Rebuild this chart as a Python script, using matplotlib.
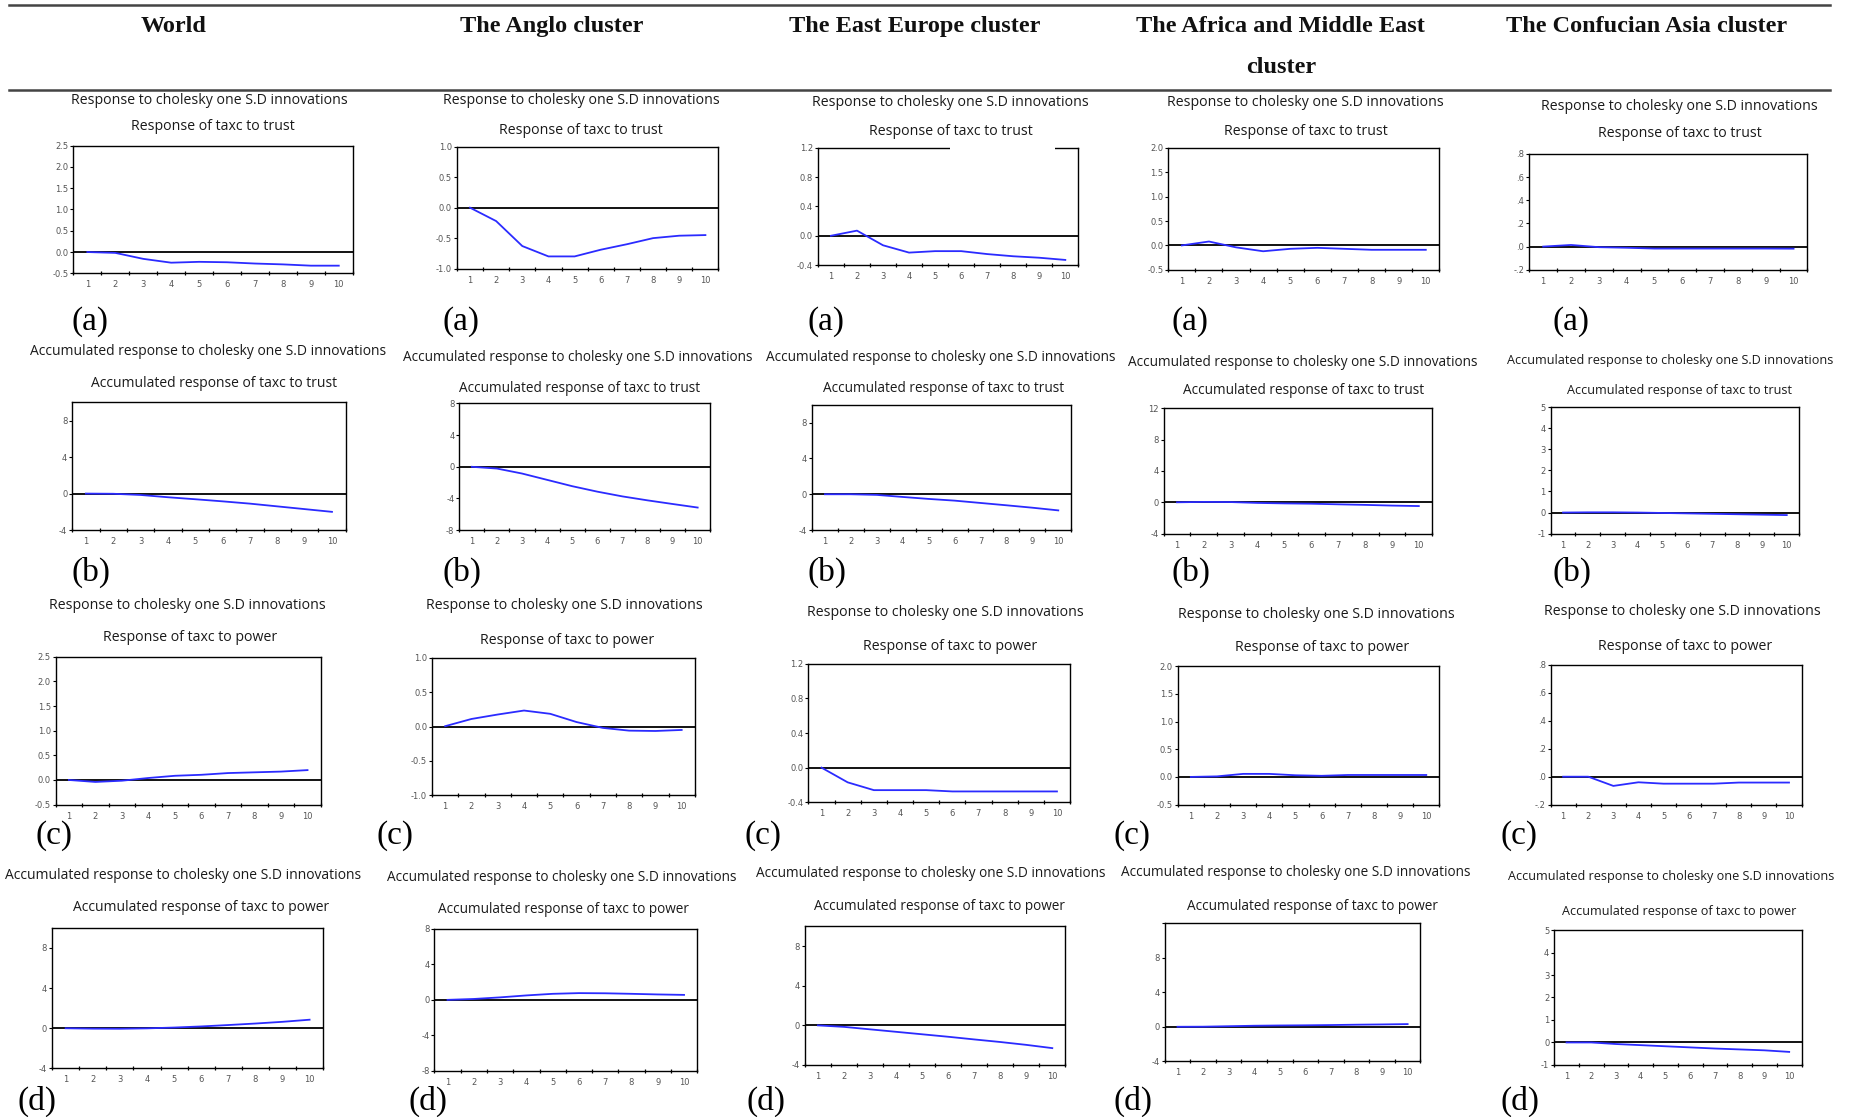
import matplotlib
matplotlib.use("Agg")
import matplotlib.pyplot as plt
from matplotlib.patches import Rectangle
from matplotlib.lines import Line2D

# ---------------- data ----------------
periods = [1, 2, 3, 4, 5, 6, 7, 8, 9, 10]
clusters = ["World", "The Anglo cluster", "The East Europe cluster",
            "The Africa and Middle East\ncluster", "The Confucian Asia cluster"]
row_letters = ["(a)", "(b)", "(c)", "(d)"]
row_title1 = ["Response to cholesky one S.D innovations",
              "Accumulated response to cholesky one S.D innovations",
              "Response to cholesky one S.D innovations",
              "Accumulated response to cholesky one S.D innovations"]
row_title2 = ["Response of taxc to trust",
              "Accumulated response of taxc to trust",
              "Response of taxc to power",
              "Accumulated response of taxc to power"]

# (a) Response of taxc to trust
trust_world = [0.0, -0.02, -0.16, -0.25, -0.23, -0.24, -0.27, -0.29, -0.32, -0.32]
trust_anglo = [0.0, -0.22, -0.63, -0.80, -0.80, -0.69, -0.60, -0.50, -0.46, -0.45]
trust_east = [0.0, 0.07, -0.13, -0.23, -0.21, -0.21, -0.25, -0.28, -0.30, -0.33]
trust_africa = [0.0, 0.08, -0.04, -0.12, -0.07, -0.05, -0.07, -0.09, -0.09, -0.09]
trust_confucian = [0.0, 0.014, -0.005, -0.01, -0.017, -0.017, -0.017, -0.017, -0.017, -0.018]
# (b) Accumulated response of taxc to trust
acc_trust_world = [0.0, -0.02, -0.15, -0.40, -0.62, -0.85, -1.10, -1.40, -1.70, -2.00]
acc_trust_anglo = [0.0, -0.22, -0.85, -1.65, -2.45, -3.14, -3.74, -4.24, -4.70, -5.15]
acc_trust_east = [0.0, 0.0, -0.07, -0.30, -0.52, -0.71, -0.97, -1.23, -1.50, -1.80]
acc_trust_africa = [0.0, 0.05, 0.03, -0.08, -0.14, -0.18, -0.26, -0.33, -0.42, -0.48]
acc_trust_confucian = [0.0, 0.01, 0.01, 0.0, -0.02, -0.04, -0.06, -0.08, -0.10, -0.12]
# (c) Response of taxc to power
power_world = [0.0, -0.04, -0.015, 0.04, 0.085, 0.105, 0.14, 0.155, 0.17, 0.20]
power_anglo = [0.005, 0.11, 0.175, 0.233, 0.185, 0.065, -0.02, -0.06, -0.065, -0.05]
power_east = [0.0, -0.17, -0.26, -0.26, -0.26, -0.275, -0.275, -0.275, -0.275, -0.275]
power_africa = [0.0, 0.01, 0.055, 0.055, 0.03, 0.02, 0.035, 0.035, 0.035, 0.035]
power_confucian = [0.0, 0.0, -0.066, -0.04, -0.05, -0.05, -0.05, -0.042, -0.042, -0.042]
# (d) Accumulated response of taxc to power
acc_power_world = [0.0, -0.04, -0.05, -0.01, 0.07, 0.18, 0.32, 0.47, 0.64, 0.85]
acc_power_anglo = [0.0, 0.10, 0.28, 0.50, 0.68, 0.76, 0.74, 0.68, 0.61, 0.56]
acc_power_east = [0.0, -0.15, -0.40, -0.65, -0.90, -1.15, -1.42, -1.68, -1.97, -2.30]
acc_power_africa = [0.0, 0.01, 0.065, 0.12, 0.15, 0.17, 0.20, 0.24, 0.27, 0.31]
acc_power_confucian = [0.0, 0.0, -0.07, -0.12, -0.17, -0.22, -0.27, -0.31, -0.35, -0.42]

series = [
    [trust_world, trust_anglo, trust_east, trust_africa, trust_confucian],
    [acc_trust_world, acc_trust_anglo, acc_trust_east, acc_trust_africa, acc_trust_confucian],
    [power_world, power_anglo, power_east, power_africa, power_confucian],
    [acc_power_world, acc_power_anglo, acc_power_east, acc_power_africa, acc_power_confucian],
]

# y-axis ticks / labels per column for response (a,c) and accumulated (b,d)
resp_ticks = [[-0.5, 0.0, 0.5, 1.0, 1.5, 2.0, 2.5],
              [-1.0, -0.5, 0.0, 0.5, 1.0],
              [-0.4, 0.0, 0.4, 0.8, 1.2],
              [-0.5, 0.0, 0.5, 1.0, 1.5, 2.0],
              [-0.2, 0.0, 0.2, 0.4, 0.6, 0.8]]
resp_labels = [["-0.5", "0.0", "0.5", "1.0", "1.5", "2.0", "2.5"],
               ["-1.0", "-0.5", "0.0", "0.5", "1.0"],
               ["-0.4", "0.0", "0.4", "0.8", "1.2"],
               ["-0.5", "0.0", "0.5", "1.0", "1.5", "2.0"],
               ["-.2", ".0", ".2", ".4", ".6", ".8"]]
acc_ylims = [(-4, 10), (-8, 8), (-4, 10), (-4, 12), (-1, 5)]
acc_ticks = [[-4, 0, 4, 8], [-8, -4, 0, 4, 8], [-4, 0, 4, 8],
             [-4, 0, 4, 8, 12], [-1, 0, 1, 2, 3, 4, 5]]

# ---------------- layout (reference pixel grid 1568 x 944) ----------------
W0, H0 = 1568.0, 944.0
def fx(x): return x / W0
def fy(y): return 1 - y / H0

axes_boxes = [
    [(62, 123, 298, 231), (386, 124, 607, 227), (691, 125, 911, 224), (987, 125, 1216, 228), (1292, 130, 1527, 228)],
    [(61, 340, 292, 448), (388, 341, 600, 448), (686, 342, 905, 448), (983, 345, 1210, 451), (1310, 344, 1520, 451)],
    [(47, 555, 271, 680), (365, 556, 587, 672), (683, 561, 904, 678), (995, 563, 1216, 680), (1310, 562, 1522, 680)],
    [(44, 784, 273, 903), (367, 785, 589, 905), (680, 783, 900, 900), (984, 780, 1200, 897), (1313, 786, 1522, 900)],
]
title_pos = [
    [((177, 85), (180, 107)), ((491, 85), (491, 110)), ((803, 87), (803, 111)), ((1103, 87), (1103, 111)), ((1419, 90), (1419, 113))],
    [((176, 297), (181, 324)), ((488, 302), (490, 328)), ((795, 302), (797, 328)), ((1101, 306), (1101, 330)), ((1411, 305), (1419, 330))],
    [((158, 512), (161, 539)), ((477, 512), (479, 541)), ((799, 518), (803, 546)), ((1112, 519), (1117, 547)), ((1421, 517), (1424, 546))],
    [((155, 740), (170, 767)), ((475, 742), (476, 769)), ((786, 738), (794, 766)), ((1095, 737), (1109, 766)), ((1412, 741), (1419, 770))],
]
# accumulated titles in the last columns are narrower in the reference
acc_title_size = [10.0, 9.8, 9.8, 9.8, 9.1]
letter_pos = [
    [(60, 272), (374, 272), (682, 272), (990, 272), (1312, 272)],
    [(60, 484), (374, 484), (682, 484), (990, 484), (1312, 484)],
    [(30, 706), (318, 706), (629, 706), (941, 706), (1268, 706)],
    [(15, 931), (345, 931), (631, 931), (941, 931), (1268, 931)],
]
header_x = [147, 466, 773, 1082, 1391]
header_y = [22, 57]

fig = plt.figure(figsize=(18.56, 11.17), dpi=100)
fig.patch.set_facecolor("white")

title_font = ["Open Sans", "DejaVu Sans"]
serif_font = ["Liberation Serif", "DejaVu Serif"]

# header rules and titles
for yline in (4, 76):
    fig.add_artist(Line2D([fx(8), fx(1546)], [fy(yline), fy(yline)],
                          color="#444444", lw=1.8, transform=fig.transFigure))
for i, name in enumerate(clusters):
    for j, part in enumerate(name.split("\n")):
        fig.text(fx(header_x[i]), fy(header_y[j]), part, ha="center",
                 va="center", fontsize=17.5, fontweight="bold",
                 family=serif_font, color="#111111")

for r in range(4):
    for c in range(5):
        l, t, rr, b = axes_boxes[r][c]
        ax = fig.add_axes([fx(l), fy(b), fx(rr - l), (b - t) / H0])
        ax.plot(periods, series[r][c], color="#2b2bff", lw=1.3, zorder=3)
        ax.axhline(0, color="black", lw=1.3, zorder=2)
        ax.set_xlim(0.5, 10.5)
        if r in (0, 2):
            ticks = resp_ticks[c]
            ax.set_ylim(ticks[0], ticks[-1])
            ax.set_yticks(ticks)
            ax.set_yticklabels(resp_labels[c])
        else:
            ax.set_ylim(*acc_ylims[c])
            ax.set_yticks(acc_ticks[c])
            labs = [str(v) for v in acc_ticks[c]]
            if r == 3 and c == 3:
                labs[-1] = ""
            ax.set_yticklabels(labs)
        ax.set_xticks(periods)
        ax.set_xticklabels([str(p) for p in periods])
        ax.set_xticks([p + 0.5 for p in range(0, 11)], minor=True)
        ax.tick_params(axis="x", which="major", length=0, pad=5,
                       labelsize=6, labelcolor="#555555")
        ax.tick_params(axis="x", which="minor", length=3.5, width=0.9,
                       direction="inout", color="black")
        ax.tick_params(axis="y", which="major", length=2, width=0.8,
                       direction="out", labelsize=6, labelcolor="#555555",
                       pad=1.5)
        for s in ax.spines.values():
            s.set_linewidth(1.0)
            s.set_color("black")
        (x1, y1), (x2, y2) = title_pos[r][c]
        size = 10.2 if r in (0, 2) else acc_title_size[c]
        fig.text(fx(x1), fy(y1), row_title1[r], ha="center", va="center",
                 fontsize=size, family=title_font, color="#1a1a1a")
        fig.text(fx(x2), fy(y2), row_title2[r], ha="center", va="center",
                 fontsize=size, family=title_font, color="#1a1a1a")
        lx, ly = letter_pos[r][c]
        fig.text(fx(lx), fy(ly), row_letters[r], ha="left", va="center",
                 fontsize=24, family=serif_font, color="black")

# gap in the top frame of the East Europe (a) panel, as in the reference
fig.add_artist(Rectangle((fx(803), fy(127)), fx(891) - fx(803), 4 / H0,
                         facecolor="white", edgecolor="none",
                         transform=fig.transFigure, zorder=10))

fig.savefig("out.png", dpi=100, facecolor="white")
